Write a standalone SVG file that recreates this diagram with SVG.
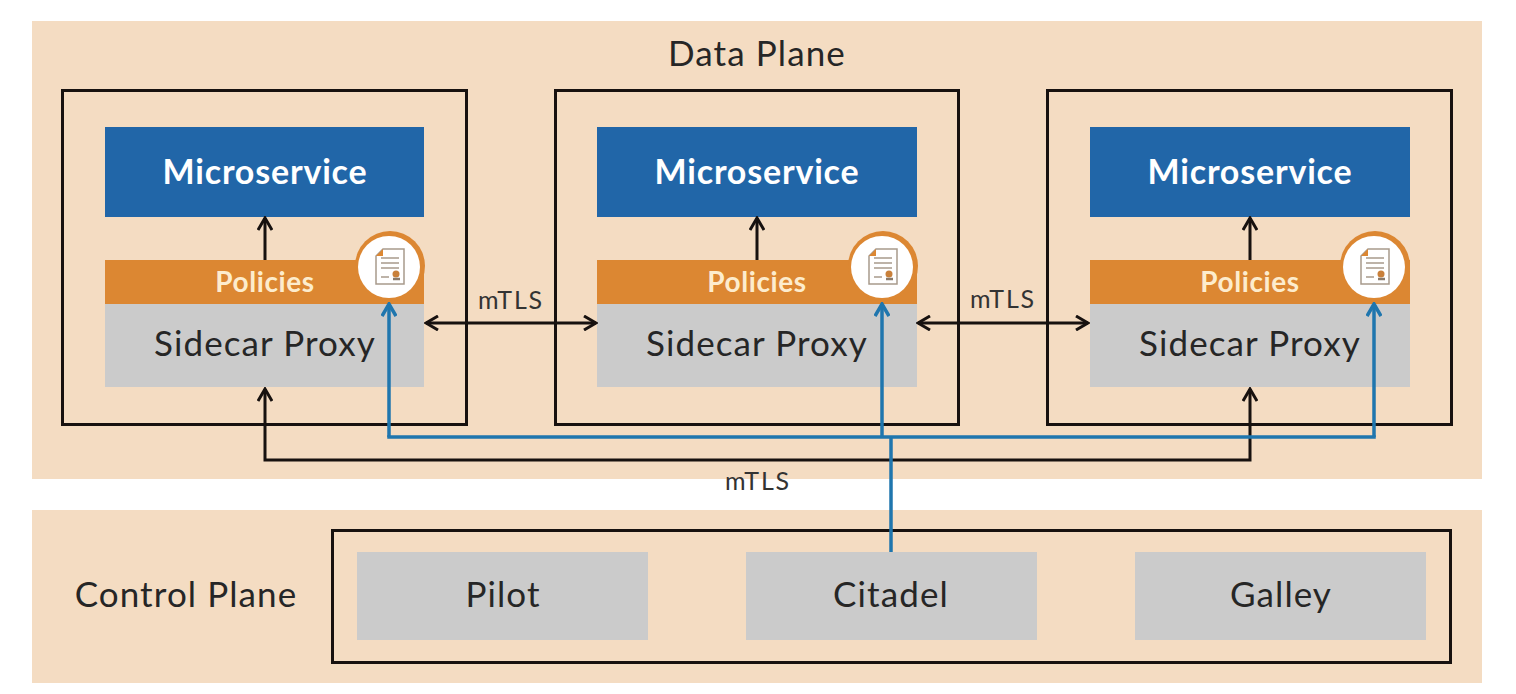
<svg xmlns="http://www.w3.org/2000/svg" width="1516" height="694" viewBox="0 0 1516 694">
<style>
text{font-family:Lato,"Open Sans","Liberation Sans",sans-serif;text-anchor:middle}
.plane{fill:#f4dcc2}
.box{fill:none;stroke:#17110f;stroke-width:3}
.ms{fill:#2166a8}
.pol{fill:#dc8732}
.gray{fill:#cbcbcb}
.t1{font-size:35px;letter-spacing:1.1px;fill:#262626}
.tw{font-size:34px;letter-spacing:.8px;fill:#fff;font-weight:700}
.tp{font-size:28px;letter-spacing:.6px;fill:#fdeccd;font-weight:700}
.tm{font-size:25px;letter-spacing:1.8px;fill:#333}
.k{fill:none;stroke:#17110f;stroke-width:3}
.b{fill:none;stroke:#1f76ae;stroke-width:3.5}
.ic{fill:none;stroke:#a89a8c;stroke-width:1.5}
</style>
<defs>
<marker id="ah" viewBox="0 0 16 16" refX="14" refY="8" markerWidth="16" markerHeight="16" markerUnits="userSpaceOnUse" orient="auto-start-reverse"><path d="M2 1L14 8L2 15" fill="none" stroke="#17110f" stroke-width="3"/></marker>
<marker id="ahb" viewBox="0 0 16 16" refX="14" refY="8" markerWidth="16" markerHeight="16" markerUnits="userSpaceOnUse" orient="auto"><path d="M2 1L14 8L2 15" fill="none" stroke="#1f76ae" stroke-width="3.5"/></marker>
<g id="cert">
<circle cx="0" cy="0" r="35" fill="#dc8732"/>
<circle cx="-1" cy="1" r="31" fill="#fff"/>
<path d="M-7-17H14V18H-14V-10Z" class="ic"/>
<path d="M-7-17L-14-10H-7Z" fill="#dc8732"/>
<path d="M-9-8H9M-9-3H9M-9 2H9M-9 11H-1" class="ic"/>
<circle cx="6" cy="8" r="3.5" fill="#c9803a"/>
<path d="M3 13H10" stroke="#8a7a6a" stroke-width="2.5" fill="none"/>
</g>
</defs>
<rect width="1516" height="694" fill="#fff"/>
<g id="data-plane"><rect class="plane" x="32" y="21" width="1450" height="458"/><text class="t1" x="757" y="66">Data Plane</text></g>
<g id="control-plane"><rect class="plane" x="32" y="510" width="1450" height="173"/><text class="t1" x="186" y="607">Control Plane</text><rect class="box" x="332.500" y="530.500" width="1118" height="132"/></g>
<g id="pod-1"><rect class="box" x="62.500" y="90.500" width="404" height="334"/><rect class="ms" x="105" y="127" width="319" height="90"/><text class="tw" x="265" y="184">Microservice</text><rect class="pol" x="105" y="260" width="319" height="44"/><rect class="gray" x="105" y="304" width="319" height="83"/><text class="tp" x="265" y="292">Policies</text><text class="t1" x="265" y="356">Sidecar Proxy</text><use href="#cert" x="390" y="266"/></g>
<g id="pod-2"><rect class="box" x="555.500" y="90.500" width="403" height="334"/><rect class="ms" x="597" y="127" width="320" height="90"/><text class="tw" x="757" y="184">Microservice</text><rect class="pol" x="597" y="260" width="320" height="44"/><rect class="gray" x="597" y="304" width="320" height="83"/><text class="tp" x="757" y="292">Policies</text><text class="t1" x="757" y="356">Sidecar Proxy</text><use href="#cert" x="883" y="266"/></g>
<g id="pod-3"><rect class="box" x="1047.500" y="90.500" width="404" height="334"/><rect class="ms" x="1090" y="127" width="320" height="90"/><text class="tw" x="1250" y="184">Microservice</text><rect class="pol" x="1090" y="260" width="320" height="44"/><rect class="gray" x="1090" y="304" width="320" height="83"/><text class="tp" x="1250" y="292">Policies</text><text class="t1" x="1250" y="356">Sidecar Proxy</text><use href="#cert" x="1375" y="266"/></g>
<g id="pilot"><rect class="gray" x="357" y="552" width="291" height="88"/><text class="t1" x="503" y="607">Pilot</text></g>
<g id="citadel"><rect class="gray" x="746" y="552" width="291" height="88"/><text class="t1" x="891" y="607">Citadel</text></g>
<g id="galley"><rect class="gray" x="1135" y="552" width="291" height="88"/><text class="t1" x="1281" y="607">Galley</text></g>
<g id="connectors">
<path class="k" marker-end="url(#ah)" d="M265 260V218"/>
<path class="k" marker-end="url(#ah)" d="M757 260V218"/>
<path class="k" marker-end="url(#ah)" d="M1250 260V218"/>
<path class="k" marker-start="url(#ah)" marker-end="url(#ah)" d="M426 323H596"/>
<path class="k" marker-start="url(#ah)" marker-end="url(#ah)" d="M918 323H1088"/>
<path class="k" marker-start="url(#ah)" marker-end="url(#ah)" d="M265 389V460H1250V389"/>
<path class="b" d="M891 552V437"/>
<path class="b" marker-end="url(#ahb)" d="M389 437V304"/>
<path class="b" d="M387.250 437H1375.750"/>
<path class="b" marker-end="url(#ahb)" d="M882 437V304"/>
<path class="b" marker-end="url(#ahb)" d="M1374 437V304"/>
<text class="tm" x="511" y="309">mTLS</text>
<text class="tm" x="1003" y="308">mTLS</text>
<text class="tm" x="758" y="490">mTLS</text>
</g>
</svg>
